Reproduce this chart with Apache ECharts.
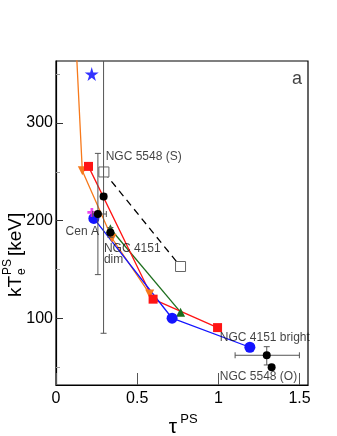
<!DOCTYPE html>
<html lang="en">
<head>
<meta charset="UTF-8">
<title>kTe vs tau</title>
<script src="https://cdn.jsdelivr.net/npm/echarts@6/dist/echarts.min.js"></script>
<style>
html, body { margin: 0; padding: 0; background: #fff; }
#main { width: 337px; height: 436px; }
</style>
</head>
<body>
<div id="main"></div>
<script>
// axis ticks
var xTicks = [0, 0.5, 1, 1.5];
var yTicks = [100, 200, 300];
var yMinor = [50, 150, 250, 350];

// model tracks (tau, kTe)
var orangeTrack = [[0.103, 450], [0.162, 251], [0.345, 182], [0.577, 125]];
var redTrack = [[0.200, 255.5], [0.598, 119.7], [0.995, 90.6]];
var greenTrack = [[0.335, 191.7], [0.767, 106.4]];
var blueTrack = [[0.233, 202.3], [0.715, 100.2], [1.194, 70.5]];
var ngc5548S = [[0.295, 249.8], [0.767, 153.1]];
var starPt = [[0.220, 350]];
var crossPt = [[0.221, 208.4]];

// measured points: tau, kTe, tauLo, tauHi, kTeLo, kTeHi
var measured = [
  [0.293, 224.8, 0.275, 0.312, 84.8, 364.8],
  [0.258, 206.8, 0.226, 0.310, 144.8, 268.8],
  [0.335, 187.9, 0.322, 0.348, 183.0, 193.0],
  [1.298, 62.3, 1.103, 1.499, 52.4, 71.1],
  [1.328, 50.0, 1.328, 1.328, 50.0, 50.0]
];

// annotations
var noteText = ['NGC 5548 (S)', 'Cen A', 'NGC 4151\ndim', 'NGC 4151 bright', 'NGC 5548 (O)'];
var notePos = [[0.306, 265.8], [0.059, 188.9], [0.295, 166.1], [1.009, 80.7], [1.009, 40.4]];
var panelTag = 'a';
var panelPos = [1.454, 344.4];

var font = 'Liberation Sans, Arial, sans-serif';
var starPath = 'path://M50,0 L61,35 L98,35 L68,57 L79,91 L50,70 L21,91 L32,57 L2,35 L39,35 Z';
var plusPath = 'path://M35,0 H65 V35 H100 V65 H65 V100 H35 V65 H0 V35 H35 Z';

var notes = noteText.map(function (t, i) {
  return { name: t, value: notePos[i] };
});
notes.push({ name: panelTag, value: panelPos, label: { fontSize: 18 } });

var chart = echarts.init(document.getElementById('main'), null, { renderer: 'canvas' });

var option = {
  backgroundColor: '#fff',
  animation: false,
  grid: { left: 56, right: 29, top: 61, bottom: 51, show: true, borderColor: '#000', borderWidth: 1.2 },
  xAxis: {
    type: 'value', min: 0, max: 1.552,
    axisLine: { show: true, lineStyle: { color: '#000', width: 1.2 } },
    axisTick: { show: true, inside: true, length: 12, customValues: xTicks, lineStyle: { color: '#555' } },
    axisLabel: {
      customValues: xTicks, color: '#000', fontSize: 16, fontFamily: font, margin: 6,
      formatter: function (v) { return String(v); }
    },
    splitLine: { show: false }
  },
  yAxis: [{
    type: 'value', min: 31.9, max: 363.3,
    axisLine: { show: true, lineStyle: { color: '#000', width: 1.2 } },
    axisTick: { show: true, inside: true, length: 7, customValues: yTicks, lineStyle: { color: '#333' } },
    axisLabel: { customValues: yTicks, color: '#000', fontSize: 16, fontFamily: font, margin: 3 },
    splitLine: { show: false }
  }, {
    type: 'value', min: 31.9, max: 363.3, position: 'left',
    axisLine: { show: false },
    axisTick: { show: true, inside: true, length: 4, customValues: yMinor, lineStyle: { color: '#999' } },
    axisLabel: { show: false },
    splitLine: { show: false }
  }],
  series: [
    {
      type: 'line', data: orangeTrack, symbol: 'triangle', symbolRotate: 180, symbolSize: 9,
      itemStyle: { color: '#f7791b' }, lineStyle: { color: '#f7791b', width: 1.3 }, z: 3
    },
    {
      type: 'line', data: greenTrack, symbol: 'triangle', symbolSize: 9,
      itemStyle: { color: '#1d6e1d' }, lineStyle: { color: '#1d6e1d', width: 1.3 }, z: 3
    },
    {
      type: 'line', data: redTrack, symbol: 'rect', symbolSize: 9,
      itemStyle: { color: '#ff1414' }, lineStyle: { color: '#ff1414', width: 1.3 }, z: 3
    },
    {
      type: 'line', data: blueTrack, symbol: 'circle', symbolSize: 11,
      itemStyle: { color: '#1414ff' }, lineStyle: { color: '#1414ff', width: 1.3 }, z: 3
    },
    {
      type: 'line', data: ngc5548S, symbol: 'rect', symbolSize: 10,
      itemStyle: { color: '#fff', borderColor: '#666', borderWidth: 1 },
      lineStyle: { color: '#000', width: 1.3, type: [7, 5] }, z: 3
    },
    {
      type: 'scatter', data: starPt, symbol: starPath, symbolSize: 14,
      itemStyle: { color: '#0000ff' }, z: 4
    },
    {
      type: 'scatter', data: crossPt, symbol: plusPath, symbolSize: 9,
      itemStyle: { color: '#e619e6' }, z: 4
    },
    {
      type: 'custom', data: measured, clip: true, z: 5,
      renderItem: function (params, api) {
        var x = api.value(0), y = api.value(1);
        var c = api.coord([x, y]);
        var l = api.coord([api.value(2), y]), r = api.coord([api.value(3), y]);
        var b = api.coord([x, api.value(4)]), t = api.coord([x, api.value(5)]);
        var st = { stroke: '#555', lineWidth: 1 };
        var cap = 3;
        var kids = [];
        if (r[0] - l[0] > 1) {
          kids.push({ type: 'line', shape: { x1: l[0], y1: c[1], x2: r[0], y2: c[1] }, style: st });
          kids.push({ type: 'line', shape: { x1: l[0], y1: c[1] - cap, x2: l[0], y2: c[1] + cap }, style: st });
          kids.push({ type: 'line', shape: { x1: r[0], y1: c[1] - cap, x2: r[0], y2: c[1] + cap }, style: st });
        }
        if (b[1] - t[1] > 1) {
          kids.push({ type: 'line', shape: { x1: c[0], y1: t[1], x2: c[0], y2: b[1] }, style: st });
          kids.push({ type: 'line', shape: { x1: c[0] - cap, y1: t[1], x2: c[0] + cap, y2: t[1] }, style: st });
          kids.push({ type: 'line', shape: { x1: c[0] - cap, y1: b[1], x2: c[0] + cap, y2: b[1] }, style: st });
        }
        kids.push({ type: 'circle', shape: { cx: c[0], cy: c[1], r: 4 }, style: { fill: '#000' } });
        return { type: 'group', children: kids };
      }
    },
    {
      type: 'scatter', data: notes, symbolSize: 0, silent: true, z: 6,
      label: {
        show: true, position: 'right', distance: 0, formatter: '{b}',
        color: '#111', fontSize: 12, fontFamily: font, lineHeight: 11
      }
    }
  ],
  graphic: [
    {
      type: 'group', x: 16, y: 297, rotation: Math.PI / 2,
      children: [
        { type: 'text', x: 0, y: 0, style: { text: 'kT', font: '19px ' + font, fill: '#000', textAlign: 'left', textVerticalAlign: 'middle' } },
        { type: 'text', x: 22, y: -8, style: { text: 'PS', font: '12px ' + font, fill: '#000', textAlign: 'left', textVerticalAlign: 'middle' } },
        { type: 'text', x: 22, y: 6, style: { text: 'e', font: '12px ' + font, fill: '#000', textAlign: 'left', textVerticalAlign: 'middle' } },
        { type: 'text', x: 41, y: 0, style: { text: '[keV]', font: '19px ' + font, fill: '#000', textAlign: 'left', textVerticalAlign: 'middle' } }
      ]
    },
    { type: 'text', x: 173, y: 427, style: { text: 'τ', font: '21px ' + font, fill: '#000', textAlign: 'center', textVerticalAlign: 'middle' } },
    { type: 'text', x: 189, y: 419, style: { text: 'PS', font: '13px ' + font, fill: '#000', textAlign: 'center', textVerticalAlign: 'middle' } }
  ]
};

chart.setOption(option);
</script>
</body>
</html>
